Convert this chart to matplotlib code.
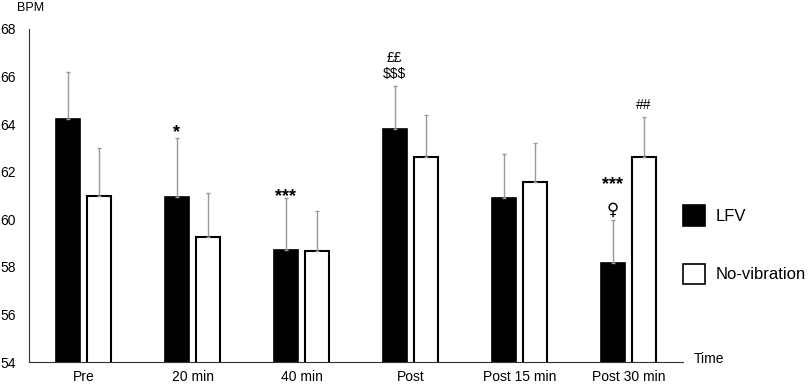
"""BPM over time: LFV vs no-vibration (bar chart with one-sided SD bars)."""
import matplotlib

matplotlib.use("Agg")
import matplotlib.pyplot as plt
import numpy as np
from matplotlib.patches import Rectangle

plt.rcParams["font.family"] = ["Liberation Sans", "DejaVu Sans"]

DPI = 100
FIGSIZE = (8.1, 3.86)

times = ["Pre", "20 min", "40 min", "Post", "Post 15 min", "Post 30 min"]
lfv_mean = [64.2, 60.95, 58.7, 63.8, 60.9, 58.15]
lfv_sd = [2.0, 2.45, 2.2, 1.8, 1.85, 1.8]
novib_mean = [61.0, 59.25, 58.65, 62.6, 61.55, 62.63]
novib_sd = [2.0, 1.85, 1.7, 1.8, 1.65, 1.67]

# significance marks: (time index, series, text)
marks = [
    (1, "lfv", "*"),
    (2, "lfv", "***"),
    (3, "lfv", "$$$"),
    (3, "lfv", "££"),
    (5, "lfv", "♀"),
    (5, "lfv", "***"),
    (5, "novib", "##"),
]
# baseline offset above the error bar (points), font size, weight per mark
mark_style = {
    (1, "*"): (1.0, 13, "bold"),
    (2, "***"): (-2.5, 13, "bold"),
    (3, "$$$"): (6.0, 10, "normal"),
    (3, "££"): (17.5, 10, "normal"),
    (5, "♀"): (4.0, 12, "normal"),
    (5, "***"): (22.5, 13, "bold"),
    (5, "##"): (6.0, 10, "normal"),
}

x = np.arange(len(times))
width = 0.22
offset = 0.143

fig = plt.figure(figsize=FIGSIZE, dpi=DPI)
ax = fig.add_axes([0.036, 0.062, 0.807, 0.863])

err_kw = dict(ecolor="#999999", elinewidth=1, capsize=1.5, capthick=1)
zeros = np.zeros(len(x))
ax.bar(x - offset, lfv_mean, width, color="black", edgecolor="black",
       linewidth=1.2, yerr=[zeros, lfv_sd], error_kw=err_kw, zorder=2)
ax.bar(x + offset, novib_mean, width, color="white", edgecolor="black",
       linewidth=1.5, yerr=[zeros, novib_sd], error_kw=err_kw, zorder=2)

for i, series, txt in marks:
    if series == "lfv":
        xi, top = x[i] - offset, lfv_mean[i] + lfv_sd[i]
    else:
        xi, top = x[i] + offset, novib_mean[i] + novib_sd[i]
    dy, size, weight = mark_style[(i, txt)]
    family = ["DejaVu Sans"] if txt == "♀" else ["Liberation Sans", "DejaVu Sans"]
    ax.annotate(txt, (xi, top), xytext=(0, dy), textcoords="offset points",
                ha="center", va="baseline", fontsize=size, fontweight=weight,
                family=family)

ax.set_xlim(-0.5, 5.5)
ax.set_ylim(54, 68)
ax.set_yticks(range(54, 69, 2))
ax.set_xticks(x)
ax.set_xticklabels(times)
ax.tick_params(length=0, labelsize=10)
ax.tick_params(axis="x", pad=6)
ax.tick_params(axis="y", pad=9.5)
ax.spines["top"].set_visible(False)
ax.spines["right"].set_visible(False)
ax.spines["left"].set_color("#333333")
ax.spines["bottom"].set_color("#333333")

fig.text(0.021, 0.978, "BPM", fontsize=9, va="center")
fig.text(0.857, 0.07, "Time", fontsize=10, va="center")

# legend drawn by hand to match the spacing of the original
fig.add_artist(Rectangle((0.8432, 0.4145), 0.0272, 0.0544, transform=fig.transFigure,
                         facecolor="black", edgecolor="black", linewidth=1.2))
fig.add_artist(Rectangle((0.8432, 0.2642), 0.0272, 0.0518, transform=fig.transFigure,
                         facecolor="white", edgecolor="black", linewidth=1.2))
fig.text(0.883, 0.440, "LFV", fontsize=12, va="center")
fig.text(0.883, 0.290, "No-vibration", fontsize=12, va="center")

fig.savefig("out.png", dpi=DPI)
plt.close(fig)
